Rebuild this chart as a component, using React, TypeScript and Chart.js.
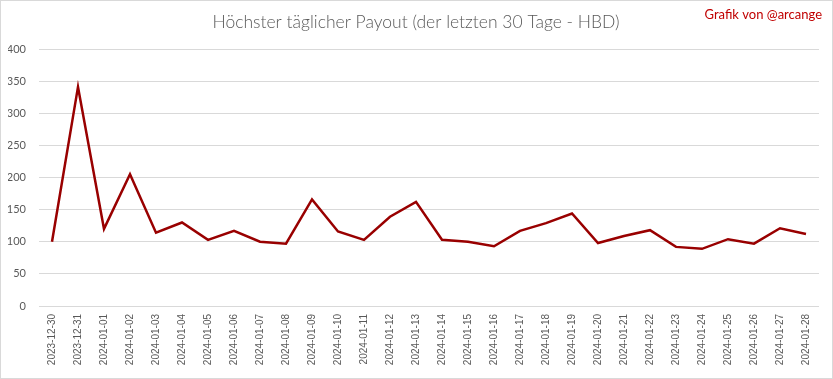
import React, { useEffect, useRef } from "react";
import { Chart, registerables } from "chart.js";

Chart.register(...registerables);

const TITLE = "Höchster täglicher Payout (der letzten 30 Tage - HBD)";
const CREDIT = "Grafik von @arcange";

const dates = [
  "2023-12-30", "2023-12-31", "2024-01-01", "2024-01-02", "2024-01-03",
  "2024-01-04", "2024-01-05", "2024-01-06", "2024-01-07", "2024-01-08",
  "2024-01-09", "2024-01-10", "2024-01-11", "2024-01-12", "2024-01-13",
  "2024-01-14", "2024-01-15", "2024-01-16", "2024-01-17", "2024-01-18",
  "2024-01-19", "2024-01-20", "2024-01-21", "2024-01-22", "2024-01-23",
  "2024-01-24", "2024-01-25", "2024-01-26", "2024-01-27", "2024-01-28",
];

const payouts = [
  100, 341, 120, 205, 114, 130, 103, 117, 100, 97,
  166, 116, 103, 139, 162, 103, 100, 93, 117, 129,
  144, 98, 109, 118, 92, 89, 104, 97, 121, 112,
];

const yMin = 0;
const yMax = 400;
const yStep = 50;

const overlay = {
  id: "overlay",
  afterDraw(chart: any) {
    const ctx = chart.ctx;
    ctx.save();
    ctx.strokeStyle = "#d9d9d9";
    ctx.lineWidth = 1;
    ctx.strokeRect(0.5, 0.5, chart.width - 1, chart.height - 1);
    ctx.fillStyle = "#595959";
    ctx.font = "300 17.5px Lato";
    ctx.textAlign = "center";
    ctx.textBaseline = "middle";
    ctx.fillText(TITLE, 416, 22);
    ctx.fillStyle = "#c00000";
    ctx.font = "13px Lato";
    ctx.textAlign = "right";
    ctx.fillText(CREDIT, 822, 15);
    ctx.restore();
  },
};

export default function App() {
  const ref = useRef<HTMLCanvasElement>(null);
  useEffect(() => {
    document.body.style.margin = "0";
    const chart = new Chart(ref.current!, {
      type: "line",
      data: {
        labels: dates,
        datasets: [
          {
            data: payouts,
            borderColor: "#990000",
            borderWidth: 2.5,
            pointRadius: 0,
            tension: 0,
            fill: false,
          },
        ],
      },
      options: {
        responsive: false,
        animation: false,
        layout: { padding: { top: 49, left: 8, right: 14, bottom: 0 } },
        plugins: { legend: { display: false }, tooltip: { enabled: false } },
        scales: {
          x: {
            offset: true,
            grid: { display: false, drawTicks: false },
            border: { display: false },
            afterFit: (s: any) => {
              s.height = 73;
            },
            ticks: {
              color: "#595959",
              font: { family: "Liberation Sans", size: 10 },
              minRotation: 90,
              maxRotation: 90,
              autoSkip: false,
              padding: 8,
            },
          },
          y: {
            min: yMin,
            max: yMax,
            grid: { color: "#d9d9d9", drawTicks: false },
            border: { display: false },
            afterFit: (s: any) => {
              s.width = 31;
            },
            ticks: {
              stepSize: yStep,
              color: "#595959",
              font: { family: "Lato", size: 11 },
              padding: 13,
            },
          },
        },
      },
      plugins: [overlay],
    });
    return () => chart.destroy();
  }, []);
  return <canvas ref={ref} width={833} height={379} />;
}
